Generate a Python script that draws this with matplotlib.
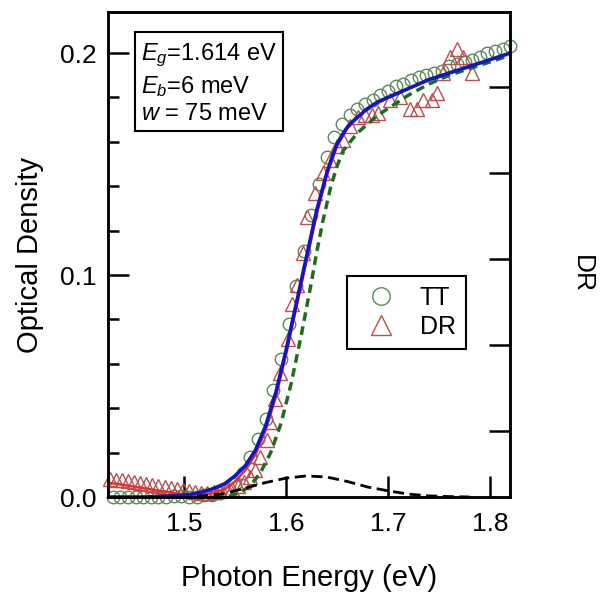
import matplotlib.pyplot as plt
from matplotlib.ticker import MultipleLocator

plt.rcParams['font.family'] = 'Liberation Sans'
plt.rcParams['mathtext.fontset'] = 'custom'
plt.rcParams['mathtext.rm'] = 'Liberation Sans'
plt.rcParams['mathtext.it'] = 'Liberation Sans:italic'

# transmission (TT) data
tt_e = [1.430, 1.4375, 1.445, 1.4525, 1.460, 1.4675, 1.475, 1.4825, 1.490, 1.4975,
        1.505, 1.5125, 1.520, 1.5275, 1.535, 1.5425, 1.550, 1.5575, 1.565, 1.5725,
        1.580, 1.5875, 1.595, 1.6025, 1.610, 1.6175, 1.625, 1.6325, 1.640, 1.6475,
        1.655, 1.6625, 1.670, 1.6775, 1.685, 1.6925, 1.700, 1.7075, 1.715, 1.7225,
        1.730, 1.7375, 1.745, 1.7525, 1.760, 1.7675, 1.775, 1.7825, 1.790, 1.7975,
        1.805, 1.8125, 1.820]
tt_od = [0.000, 0.000, 0.000, 0.000, 0.000, 0.000, 0.000, 0.000, 0.0005, 0.0005,
         0.000, 0.000, 0.001, 0.001, 0.002, 0.003, 0.006, 0.011, 0.018, 0.026,
         0.035, 0.048, 0.062, 0.078, 0.095, 0.111, 0.127, 0.141, 0.153, 0.162,
         0.168, 0.172, 0.175, 0.177, 0.179, 0.181, 0.183, 0.185, 0.186, 0.188,
         0.189, 0.190, 0.191, 0.192, 0.194, 0.195, 0.196, 0.197, 0.198, 0.200,
         0.201, 0.202, 0.203]

# diffuse reflectance (DR) data
dr_e = [1.427, 1.433, 1.439, 1.445, 1.451, 1.457, 1.463, 1.469, 1.475, 1.481,
        1.487, 1.493, 1.499, 1.505, 1.511, 1.517, 1.523, 1.529, 1.535, 1.541,
        1.547, 1.553, 1.559, 1.565, 1.570, 1.575, 1.581, 1.584, 1.589, 1.594,
        1.602, 1.606, 1.611, 1.617, 1.621, 1.628, 1.636, 1.643, 1.650, 1.656,
        1.663, 1.671, 1.677, 1.684, 1.690, 1.702, 1.712, 1.722, 1.728, 1.734,
        1.743, 1.748, 1.754, 1.761, 1.768, 1.774, 1.782]
dr_od = [0.0080, 0.0078, 0.0075, 0.0072, 0.0068, 0.0065, 0.0060, 0.0056, 0.0050, 0.0046,
         0.0040, 0.0035, 0.0030, 0.0026, 0.0022, 0.0020, 0.0020, 0.0022, 0.0025, 0.0030,
         0.0038, 0.0050, 0.0068, 0.0090, 0.0120, 0.0180, 0.0255, 0.0340, 0.0440, 0.0560,
         0.0710, 0.0870, 0.0955, 0.1100, 0.1260, 0.1370, 0.1460, 0.1520, 0.1580, 0.1610,
         0.1670, 0.1710, 0.1720, 0.1720, 0.1730, 0.1790, 0.1800, 0.1750, 0.1750, 0.1790,
         0.1790, 0.1820, 0.1910, 0.1980, 0.2020, 0.1980, 0.1910]

# total fit (blue)
fit_e = [1.425, 1.46, 1.48, 1.50, 1.51, 1.52, 1.53, 1.54, 1.55, 1.56,
         1.57, 1.58, 1.59, 1.60, 1.61, 1.62, 1.63, 1.64, 1.645, 1.65,
         1.655, 1.66, 1.665, 1.67, 1.675, 1.68, 1.69, 1.70, 1.72, 1.74,
         1.76, 1.78, 1.80, 1.82]
fit_od = [0.000, 0.000, 0.0003, 0.0008, 0.0015, 0.0025, 0.004, 0.006, 0.0095, 0.014,
          0.021, 0.032, 0.047, 0.066, 0.087, 0.108, 0.129, 0.146, 0.153, 0.159,
          0.163, 0.1665, 0.169, 0.171, 0.173, 0.175, 0.178, 0.180, 0.184, 0.188,
          0.191, 0.194, 0.197, 0.200]

# DR fit (red)
drfit_e = [1.425, 1.44, 1.46, 1.48, 1.50, 1.52, 1.54, 1.55, 1.56, 1.57,
           1.58, 1.59, 1.60, 1.61, 1.62, 1.63, 1.64, 1.65, 1.66, 1.67,
           1.68, 1.70, 1.72, 1.74, 1.76, 1.78]
drfit_od = [0.0065, 0.0055, 0.0040, 0.0025, 0.0012, 0.0010, 0.0035, 0.0070, 0.012, 0.019,
            0.030, 0.045, 0.064, 0.085, 0.106, 0.127, 0.145, 0.158, 0.166, 0.171,
            0.175, 0.180, 0.184, 0.188, 0.191, 0.194]

# continuum (green dashed)
cont_e = [1.530, 1.545, 1.555, 1.565, 1.575, 1.585, 1.595, 1.605, 1.615, 1.625,
          1.630, 1.636, 1.644, 1.650, 1.656, 1.663, 1.670, 1.680, 1.690, 1.700,
          1.720, 1.740, 1.760, 1.780, 1.800, 1.820]
cont_od = [0.000, 0.0005, 0.002, 0.005, 0.011, 0.020, 0.033, 0.051, 0.073, 0.097,
           0.110, 0.124, 0.140, 0.149, 0.156, 0.160, 0.164, 0.168, 0.172, 0.175,
           0.181, 0.186, 0.190, 0.193, 0.196, 0.199]

# exciton (black dashed)
exc_e = [1.48, 1.50, 1.52, 1.54, 1.56, 1.58, 1.60, 1.62, 1.64, 1.66,
         1.68, 1.70, 1.72, 1.74, 1.76, 1.78]
exc_od = [0.0, 0.0002, 0.0006, 0.0016, 0.0040, 0.0065, 0.0085, 0.0095, 0.0090, 0.0070,
          0.0045, 0.0028, 0.0013, 0.0005, 0.0002, 0.0]

fig = plt.figure(figsize=(6, 5.97), dpi=100)
ax = fig.add_axes([0.18, 0.1675, 0.67, 0.8125])

ax.plot(tt_e, tt_od, 'o', ms=9, mfc='none', mec='#5a8a5a', mew=1.0, clip_on=False, label='TT')
ax.plot(dr_e, dr_od, '^', ms=10, mfc='none', mec='#b85050', mew=1.0, clip_on=False, label='DR')
ax.plot(drfit_e, drfit_od, color='#e8302a', lw=1.8)
ax.plot(cont_e, cont_od, color='#1b6e1b', lw=2.5, dashes=(2.5, 1.6))
ax.plot(exc_e, exc_od, color='black', lw=2.0, dashes=(4, 2))
ax.plot(fit_e, fit_od, color='#1414c0', lw=2.6)

ax.set_xlim(1.4255, 1.8196)
ax.set_ylim(0, 0.2185)
ax.set_xticks([1.5, 1.6, 1.7, 1.8])
ax.set_yticks([0.0, 0.1, 0.2])
ax.yaxis.set_minor_locator(MultipleLocator(0.02))
ax.tick_params(which='major', direction='in', length=15, width=1.8, labelsize=19)
ax.tick_params(axis='x', pad=11)
ax.tick_params(axis='y', pad=8)
ax.tick_params(which='minor', direction='in', length=8, width=1.8)
for s in ax.spines.values():
    s.set_linewidth(1.8)

ax.set_xlabel('Photon Energy (eV)', fontsize=21, labelpad=20)
ax.set_ylabel('Optical Density', fontsize=21, labelpad=12)

ax2 = ax.twinx()
ax2.set_ylim(0.2326, 5.872)
ax2.set_yticks([1, 2, 3, 4, 5])
ax2.tick_params(direction='in', length=15, width=1.8, labelright=False)
for s in ax2.spines.values():
    s.set_linewidth(1.8)
ax2.set_ylabel('DR', fontsize=19, rotation=270, va='center')
ax2.yaxis.set_label_coords(1.18, 0.46)

ax.text(0.082, 0.939,
        '$E_g$=1.614 eV\n$E_b$=6 meV\n$w$ = 75 meV',
        transform=ax.transAxes, ha='left', va='top', fontsize=17, linespacing=1.25,
        bbox=dict(boxstyle='square,pad=0.25', fc='white', ec='black', lw=1.5))

leg = ax.legend(loc='upper left', bbox_to_anchor=(0.595, 0.456), fontsize=18,
                handlelength=1.9, handletextpad=0.6, borderpad=0.4, labelspacing=0.2,
                borderaxespad=0, fancybox=False, edgecolor='black', framealpha=1,
                markerscale=1.4)
leg.get_frame().set_linewidth(1.5)

fig.savefig('out.png', dpi=100)
